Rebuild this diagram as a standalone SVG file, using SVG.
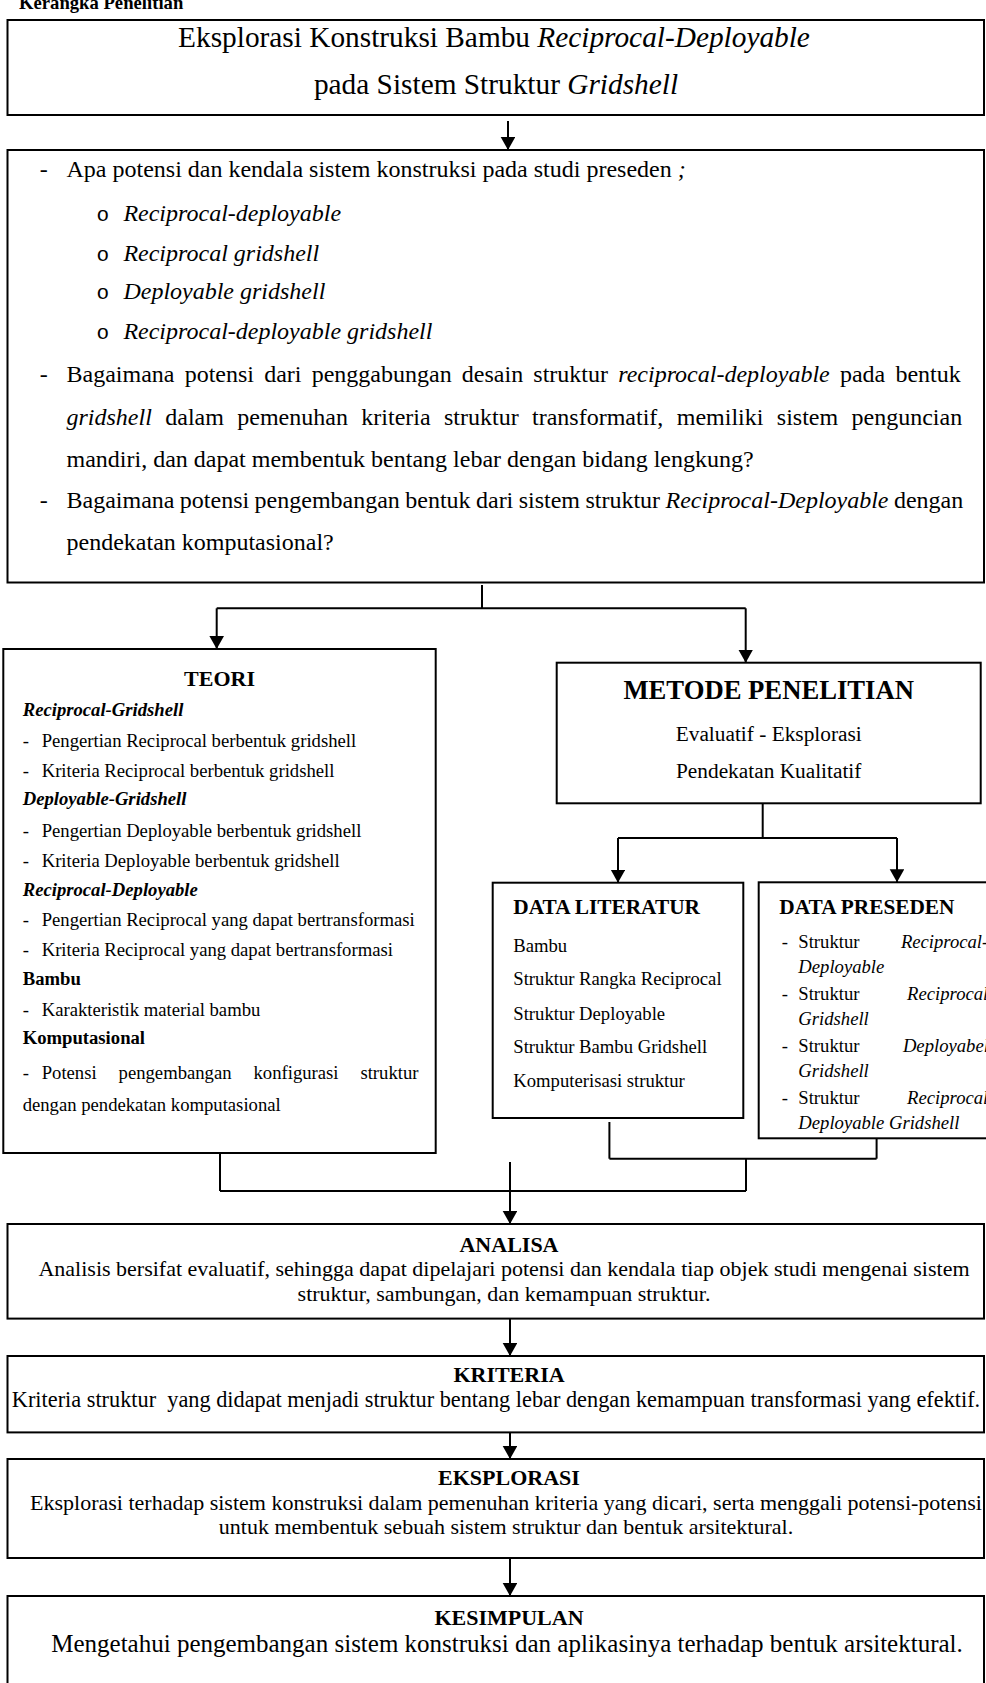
<svg xmlns="http://www.w3.org/2000/svg" width="986" height="1683" viewBox="0 0 986 1683">
<defs>
<style>
text{font-family:"Liberation Serif","Times New Roman",serif;fill:#000}
.b{font-weight:bold}
.i{font-style:italic}
.bi{font-weight:bold;font-style:italic}
.box{fill:#fff;stroke:#000;stroke-width:2}
.ln{stroke:#000;stroke-width:2;fill:none}
.ar{stroke:#000;stroke-width:2;fill:none;marker-end:url(#ah)}
.q{font-size:24px}
.th{font-size:18.67px}
.lo{font-size:22px}
.mono{font-family:"Liberation Mono","Courier New",monospace;font-size:21px}
</style>
<marker id="ah" markerWidth="14" markerHeight="15" refX="13" refY="7.3" orient="auto" markerUnits="userSpaceOnUse">
<path d="M0,0 L13,7.3 L0,14.6 z" fill="#000"/>
</marker>
</defs>
<rect width="986" height="1683" fill="#fff"/>

<text x="19" y="8.5" class="b" font-size="18.67">Kerangka Penelitian</text>

<g id="judul">
<rect class="box" x="7.5" y="20" width="976.5" height="95"/>
<text x="494" y="47" font-size="29.33" text-anchor="middle">Eksplorasi Konstruksi Bambu <tspan class="i">Reciprocal-Deployable</tspan></text>
<text x="496" y="93.5" font-size="29.33" text-anchor="middle">pada Sistem Struktur <tspan class="i">Gridshell</tspan></text>
</g>

<g id="rumusan">
<rect class="box" x="7.5" y="150" width="976.5" height="432.5"/>
<text class="q" x="39.7" y="177">-</text>
<text class="q" x="66.5" y="177">Apa potensi dan kendala sistem konstruksi pada studi preseden <tspan class="i">;</tspan></text>
<text class="mono" x="96.6" y="221">o</text>
<text class="q i" x="123.4" y="221">Reciprocal-deployable</text>
<text class="mono" x="96.6" y="260.5">o</text>
<text class="q i" x="123.4" y="260.5">Reciprocal gridshell</text>
<text class="mono" x="96.6" y="299">o</text>
<text class="q i" x="123.4" y="299">Deployable gridshell</text>
<text class="mono" x="96.6" y="338.8">o</text>
<text class="q i" x="123.4" y="338.8">Reciprocal-deployable gridshell</text>
<text class="q" x="39.7" y="381.7">-</text>
<text class="q" x="66.5" y="381.7" word-spacing="4.2">Bagaimana potensi dari penggabungan desain struktur <tspan class="i">reciprocal-deployable</tspan> pada bentuk</text>
<text class="q" x="66.5" y="424.5" word-spacing="7.4"><tspan class="i">gridshell</tspan> dalam pemenuhan kriteria struktur transformatif, memiliki sistem penguncian</text>
<text class="q" x="66.5" y="466.5">mandiri, dan dapat membentuk bentang lebar dengan bidang lengkung?</text>
<text class="q" x="39.7" y="508.3">-</text>
<text class="q" x="66.5" y="508.3" word-spacing="-0.6">Bagaimana potensi pengembangan bentuk dari sistem struktur <tspan class="i">Reciprocal-Deployable</tspan> dengan</text>
<text class="q" x="66.5" y="550">pendekatan komputasional?</text>
</g>

<g id="teori">
<rect class="box" x="3.3" y="649" width="432.4" height="504"/>
<text class="b" x="219.5" y="686" font-size="22" text-anchor="middle">TEORI</text>
<text class="th bi" x="22.7" y="716">Reciprocal-Gridshell</text>
<text class="th" x="22.7" y="747">-</text><text class="th" x="41.7" y="747">Pengertian Reciprocal berbentuk gridshell</text>
<text class="th" x="22.7" y="777">-</text><text class="th" x="41.7" y="777">Kriteria Reciprocal berbentuk gridshell</text>
<text class="th bi" x="22.7" y="805">Deployable-Gridshell</text>
<text class="th" x="22.7" y="837">-</text><text class="th" x="41.7" y="837">Pengertian Deployable berbentuk gridshell</text>
<text class="th" x="22.7" y="867">-</text><text class="th" x="41.7" y="867">Kriteria Deployable berbentuk gridshell</text>
<text class="th bi" x="22.7" y="896">Reciprocal-Deployable</text>
<text class="th" x="22.7" y="926">-</text><text class="th" x="41.7" y="926">Pengertian Reciprocal yang dapat bertransformasi</text>
<text class="th" x="22.7" y="956">-</text><text class="th" x="41.7" y="956">Kriteria Reciprocal yang dapat bertransformasi</text>
<text class="th b" x="22.7" y="985">Bambu</text>
<text class="th" x="22.7" y="1016">-</text><text class="th" x="41.7" y="1016">Karakteristik material bambu</text>
<text class="th b" x="22.7" y="1044">Komputasional</text>
<text class="th" y="1078.5"><tspan x="22.7">-</tspan><tspan x="41.7">Potensi</tspan><tspan x="118.6">pengembangan</tspan><tspan x="253.5">konfigurasi</tspan><tspan x="360.4">struktur</tspan></text>
<text class="th" x="22.7" y="1110.5">dengan pendekatan komputasional</text>
</g>

<g id="metode">
<rect class="box" x="556.7" y="662.7" width="424" height="140.6"/>
<text class="b" x="768.7" y="698.5" font-size="26.67" text-anchor="middle">METODE PENELITIAN</text>
<text x="768.7" y="740.5" font-size="21.33" text-anchor="middle">Evaluatif - Eksplorasi</text>
<text x="768.7" y="778" font-size="21.33" text-anchor="middle">Pendekatan Kualitatif</text>
</g>

<g id="data-literatur">
<rect class="box" x="492.7" y="882.7" width="250.6" height="235.3"/>
<text class="b" x="513.3" y="914" font-size="21.33">DATA LITERATUR</text>
<text class="th" x="513.3" y="952">Bambu</text>
<text class="th" x="513.3" y="985.2">Struktur Rangka Reciprocal</text>
<text class="th" x="513.3" y="1019.5">Struktur Deployable</text>
<text class="th" x="513.3" y="1052.8">Struktur Bambu Gridshell</text>
<text class="th" x="513.3" y="1087">Komputerisasi struktur</text>
</g>

<g id="data-preseden">
<rect class="box" x="758.7" y="882.3" width="250" height="256"/>
<text class="b" x="779.3" y="914" font-size="21.33">DATA PRESEDEN</text>
<text class="th" y="948"><tspan x="781.7">-</tspan><tspan x="798.3">Struktur</tspan><tspan x="900.9" class="i">Reciprocal-</tspan></text>
<text class="th i" x="798.3" y="972.5">Deployable</text>
<text class="th" y="1000"><tspan x="781.7">-</tspan><tspan x="798.3">Struktur</tspan><tspan x="907.1" class="i">Reciprocal</tspan></text>
<text class="th i" x="798.3" y="1024.5">Gridshell</text>
<text class="th" y="1052"><tspan x="781.7">-</tspan><tspan x="798.3">Struktur</tspan><tspan x="902.9" class="i">Deployabel</tspan></text>
<text class="th i" x="798.3" y="1076.5">Gridshell</text>
<text class="th" y="1104"><tspan x="781.7">-</tspan><tspan x="798.3">Struktur</tspan><tspan x="907.1" class="i">Reciprocal</tspan></text>
<text class="th i" x="798.3" y="1128.5">Deployable Gridshell</text>
</g>

<g id="analisa">
<rect class="box" x="7.5" y="1224" width="976.5" height="94.6"/>
<text class="b lo" x="509" y="1252" text-anchor="middle">ANALISA</text>
<text class="lo" x="504" y="1276" text-anchor="middle">Analisis bersifat evaluatif, sehingga dapat dipelajari potensi dan kendala tiap objek studi mengenai sistem</text>
<text class="lo" x="504" y="1300.5" text-anchor="middle">struktur, sambungan, dan kemampuan struktur.</text>
</g>

<g id="kriteria">
<rect class="box" x="7.5" y="1356" width="976.5" height="76.4"/>
<text class="b lo" x="509" y="1382" text-anchor="middle">KRITERIA</text>
<text x="496" y="1406.5" font-size="22.3" text-anchor="middle" xml:space="preserve">Kriteria struktur  yang didapat menjadi struktur bentang lebar dengan kemampuan transformasi yang efektif.</text>
</g>

<g id="eksplorasi">
<rect class="box" x="7.5" y="1459" width="976.5" height="99"/>
<text class="b lo" x="509" y="1485" text-anchor="middle">EKSPLORASI</text>
<text class="lo" x="506" y="1509.6" text-anchor="middle">Eksplorasi terhadap sistem konstruksi dalam pemenuhan kriteria yang dicari, serta menggali potensi-potensi</text>
<text class="lo" x="506" y="1534.3" text-anchor="middle">untuk membentuk sebuah sistem struktur dan bentuk arsitektural.</text>
</g>

<g id="kesimpulan">
<rect class="box" x="7.5" y="1596" width="976.5" height="110"/>
<text class="b lo" x="509" y="1624.5" text-anchor="middle">KESIMPULAN</text>
<text x="507" y="1651.5" font-size="25" text-anchor="middle">Mengetahui pengembangan sistem konstruksi dan aplikasinya terhadap bentuk arsitektural.</text>
</g>

<g id="connectors">
<line class="ar" x1="508" y1="121" x2="508" y2="150"/>
<line class="ln" x1="482" y1="585" x2="482" y2="608.3"/>
<line class="ln" x1="216.7" y1="608.3" x2="745.7" y2="608.3"/>
<line class="ar" x1="216.7" y1="608.3" x2="216.7" y2="649"/>
<line class="ar" x1="745.7" y1="608.3" x2="745.7" y2="662.7"/>
<line class="ln" x1="762.7" y1="803.3" x2="762.7" y2="838"/>
<line class="ln" x1="618" y1="838" x2="897" y2="838"/>
<line class="ar" x1="618" y1="838" x2="618" y2="882.7"/>
<line class="ar" x1="897" y1="838" x2="897" y2="882.3"/>
<line class="ln" x1="609.4" y1="1122" x2="609.4" y2="1158.7"/>
<line class="ln" x1="876.6" y1="1138.3" x2="876.6" y2="1158.7"/>
<line class="ln" x1="609.4" y1="1158.7" x2="876.6" y2="1158.7"/>
<line class="ln" x1="746" y1="1158.7" x2="746" y2="1191"/>
<line class="ln" x1="220" y1="1153" x2="220" y2="1191"/>
<line class="ln" x1="220" y1="1191" x2="746" y2="1191"/>
<line class="ar" x1="510" y1="1162" x2="510" y2="1224"/>
<line class="ar" x1="510" y1="1318.6" x2="510" y2="1356"/>
<line class="ar" x1="510" y1="1432.4" x2="510" y2="1459"/>
<line class="ar" x1="510" y1="1558" x2="510" y2="1596"/>
</g>
</svg>
